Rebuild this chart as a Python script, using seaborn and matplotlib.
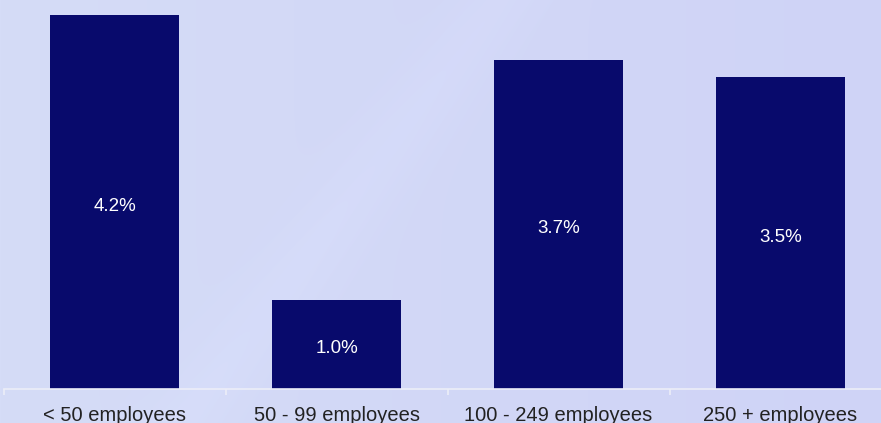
import numpy as np
import pandas as pd
import matplotlib
matplotlib.use("Agg")
import matplotlib.pyplot as plt
import seaborn as sns

# Share of employees by company size
categories = ["< 50 employees", "50 - 99 employees", "100 - 249 employees", "250 + employees"]
values = [4.2, 1.0, 3.7, 3.5]
value_labels = ["4.2%", "1.0%", "3.7%", "3.5%"]

df = pd.DataFrame({"size": categories, "share": values})

sns.set_theme(style="white")
plt.rcParams["font.family"] = ["Liberation Sans", "DejaVu Sans"]

W, H = 881, 423
fig = plt.figure(figsize=(W / 100, H / 100), dpi=100)

# soft lavender backdrop with a faint diagonal sheen
bg = fig.add_axes([0, 0, 1, 1], zorder=0)
yy, xx = np.mgrid[0:H, 0:W]
left = np.array([213, 220, 247]) / 255
right = np.array([207, 211, 246]) / 255
t = (xx / W)[..., None]
img = left * (1 - t) + right * t
d = (xx + 0.75 * yy - 500) / 45.0
sheen = 0.010 * np.exp(-d ** 2)
img = np.clip(img + sheen[..., None], 0, 1)
bg.imshow(img, aspect="auto", extent=[0, W, H, 0])
bg.axis("off")

px_per_unit = 89.0
ymax = 4.3
ax = fig.add_axes([3.5 / W, 34 / H, 888 / W, ymax * px_per_unit / H], zorder=1)
ax.patch.set_alpha(0)

sns.barplot(data=df, x="size", y="share", color="#080a6c", saturation=1,
            width=0.585, ax=ax, linewidth=0)

# value labels sit in the middle of each bar
for i, (v, lab) in enumerate(zip(values, value_labels)):
    ax.annotate(lab, xy=(i, v / 2), xytext=(0, -3), textcoords="offset points",
                ha="center", va="center", color="white", fontsize=13.5)

ax.set_xlim(-0.5, 3.5)
ax.set_ylim(0, ymax)
ax.set_xlabel("")
ax.set_ylabel("")
ax.set_yticks([])
for side in ["top", "right", "left"]:
    ax.spines[side].set_visible(False)
ax.spines["bottom"].set_color("#eceef8")
ax.spines["bottom"].set_linewidth(1.2)

ax.tick_params(axis="x", which="major", length=0, pad=12, labelsize=14.5, labelcolor="#222222")
ax.set_xticks(np.arange(-0.5, 4.0, 1.0), minor=True)
ax.tick_params(axis="x", which="minor", length=4, width=1.2, color="#eceef8", bottom=True)

fig.savefig("out.png", dpi=100)
